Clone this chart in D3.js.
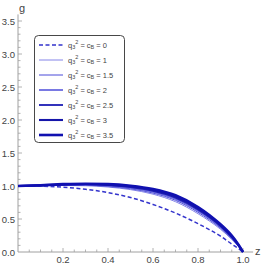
<!DOCTYPE html>
<html lang="en">
<head>
<meta charset="UTF-8">
<title>g(z)</title>
<script src="https://d3js.org/d3.v7.min.js"></script>
<style>
  body { margin: 0; background: #fff; }
  text { font-family: "Liberation Sans", Arial, sans-serif; }
</style>
</head>
<body>
<svg id="chart" width="267" height="267"></svg>
<script>
// sample points along z
const zValues = [0, 0.1, 0.2, 0.3, 0.4, 0.5, 0.6, 0.7, 0.8, 0.85, 0.9, 0.95, 0.98, 1];

// g(z) for each q3^2 = cB
const cValues = ["0", "1", "1.5", "2", "2.5", "3", "3.5"];
const g0   = [1, 0.997, 0.982, 0.951, 0.900, 0.826, 0.720, 0.590, 0.430, 0.340, 0.240, 0.120, 0.050, 0];
const g1   = [1, 1.003, 1.008, 1.004, 0.984, 0.945, 0.876, 0.762, 0.580, 0.470, 0.345, 0.190, 0.085, 0];
const g15  = [1, 1.005, 1.013, 1.011, 0.993, 0.958, 0.893, 0.783, 0.602, 0.490, 0.362, 0.202, 0.090, 0];
const g2   = [1, 1.007, 1.017, 1.018, 1.003, 0.971, 0.910, 0.804, 0.624, 0.510, 0.378, 0.214, 0.096, 0];
const g25  = [1, 1.009, 1.021, 1.024, 1.012, 0.983, 0.926, 0.824, 0.646, 0.530, 0.394, 0.226, 0.101, 0];
const g3   = [1, 1.010, 1.025, 1.030, 1.021, 0.995, 0.941, 0.843, 0.665, 0.547, 0.408, 0.238, 0.106, 0];
const g35  = [1, 1.012, 1.028, 1.035, 1.030, 1.005, 0.955, 0.860, 0.682, 0.562, 0.420, 0.248, 0.110, 0];

const xTicks = [0.2, 0.4, 0.6, 0.8, 1.0];
const yTicks = [0, 0.5, 1.0, 1.5, 2.0, 2.5, 3.0, 3.5];

const series = [g0, g1, g15, g2, g25, g3, g35];
const styles = [
  { color: "#3333cc", width: 1.5, dash: "4,2.5" },
  { color: "#6464e2", width: 0.8 },
  { color: "#4a4ad8", width: 1.0 },
  { color: "#6a6ae0", width: 1.8 },
  { color: "#1c1cb4", width: 1.8 },
  { color: "#1515aa", width: 2.1 },
  { color: "#1010b0", width: 2.6 }
];

const svg = d3.select("#chart");
const x = d3.scaleLinear().domain([0, 1]).range([18, 243]);
const y = d3.scaleLinear().domain([0, 3.5]).range([252, 21]);

const axisColor = "#a0a0a0";
const labelColor = "#444";

// x axis
svg.append("line")
  .attr("x1", x(0)).attr("x2", x(1.045))
  .attr("y1", y(0)).attr("y2", y(0))
  .attr("stroke", axisColor).attr("stroke-width", 1);
d3.range(0.05, 1.04, 0.05).forEach(t => {
  const major = Math.abs(t * 5 - Math.round(t * 5)) < 1e-6;
  svg.append("line")
    .attr("x1", x(t)).attr("x2", x(t))
    .attr("y1", y(0)).attr("y2", y(0) - (major ? 4 : 2.5))
    .attr("stroke", axisColor).attr("stroke-width", 0.8);
});
svg.selectAll(".xt").data(xTicks).enter().append("text")
  .attr("x", d => x(d)).attr("y", y(0) + 11)
  .attr("text-anchor", "middle")
  .attr("font-size", 9.5).attr("fill", labelColor)
  .text(d => d.toFixed(1));
svg.append("text").attr("x", 255).attr("y", 255)
  .attr("font-size", 11).attr("fill", labelColor).text("z");

// y axis
svg.append("line")
  .attr("x1", x(0)).attr("x2", x(0))
  .attr("y1", y(0)).attr("y2", y(3.6))
  .attr("stroke", axisColor).attr("stroke-width", 1);
d3.range(0.1, 3.55, 0.1).forEach(t => {
  const major = Math.abs(t * 2 - Math.round(t * 2)) < 1e-6;
  svg.append("line")
    .attr("x1", x(0)).attr("x2", x(0) + (major ? 4 : 2.5))
    .attr("y1", y(t)).attr("y2", y(t))
    .attr("stroke", axisColor).attr("stroke-width", 0.8);
});
svg.selectAll(".yt").data(yTicks).enter().append("text")
  .attr("x", x(0) - 3).attr("y", d => y(d) + 3.5)
  .attr("text-anchor", "end")
  .attr("font-size", 9.5).attr("fill", labelColor)
  .text(d => d.toFixed(1));
svg.append("text").attr("x", 19).attr("y", 12)
  .attr("font-size", 11).attr("fill", labelColor).text("g");

// curves
const line = d3.line()
  .x((d, i) => x(zValues[i]))
  .y(d => y(d))
  .curve(d3.curveMonotoneX);

series.forEach((s, i) => {
  const st = styles[i];
  svg.append("path")
    .attr("d", line(s))
    .attr("fill", "none")
    .attr("stroke", st.color)
    .attr("stroke-width", st.width)
    .attr("stroke-dasharray", st.dash || null);
});

// legend
const lg = svg.append("g");
lg.append("rect")
  .attr("x", 34.5).attr("y", 35.5).attr("width", 90).attr("height", 107)
  .attr("rx", 4).attr("fill", "#fff")
  .attr("stroke", "#333").attr("stroke-width", 0.9);
cValues.forEach((c, i) => {
  const ry = 45 + i * 15;
  const st = styles[i];
  lg.append("line")
    .attr("x1", 39).attr("x2", 63).attr("y1", ry).attr("y2", ry)
    .attr("stroke", st.color).attr("stroke-width", st.width)
    .attr("stroke-dasharray", st.dash || null);
  const t = lg.append("text").attr("x", 68).attr("y", ry + 2.5)
    .attr("font-size", 7.5).attr("fill", labelColor);
  t.append("tspan").text("q");
  t.append("tspan").attr("font-size", 5.5).attr("dy", 1.5).text("3");
  t.append("tspan").attr("font-size", 5.5).attr("dy", -5.5).text("2");
  t.append("tspan").attr("dy", 4).text(" = c");
  t.append("tspan").attr("font-size", 5.5).attr("dy", 1.5).text("B");
  t.append("tspan").attr("dy", -1.5).text(" = " + c);
});
</script>
</body>
</html>
